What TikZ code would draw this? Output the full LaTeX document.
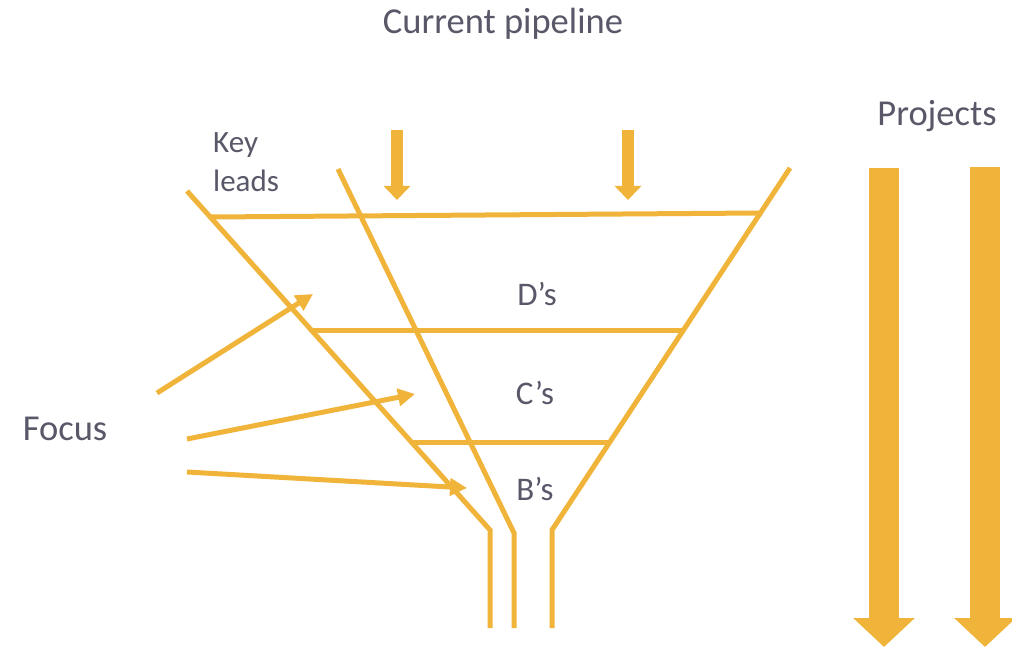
\documentclass[tikz,border=0pt]{standalone}
\usepackage{fontspec}
\setmainfont{Carlito}
\usepackage{tikz}
\usetikzlibrary{arrows.meta,positioning}

\definecolor{funnelgold}{RGB}{240,180,58}
\definecolor{labelgray}{RGB}{88,88,104}

\begin{document}
\begin{tikzpicture}[x=1pt, y=-1pt,
    rim/.style={draw=funnelgold, line width=5pt},
    pointer/.style={draw=funnelgold, line width=5pt, -{Triangle[length=17pt, width=17pt]}},
    feed/.style={draw=funnelgold, line width=12pt, -{Triangle[length=14pt, width=26pt]}},
    flow/.style={draw=funnelgold, line width=30pt, -{Triangle[length=29pt, width=60pt]}},
    heading/.style={text=labelgray, font=\fontsize{36.5}{40}\selectfont, inner sep=0pt, anchor=base},
    stage/.style={text=labelgray, font=\fontsize{33}{39}\selectfont, inner sep=0pt, anchor=base},
    note/.style={text=labelgray, font=\fontsize{31}{39}\selectfont, inner sep=0pt, anchor=base west, align=left}
]
    \useasboundingbox[fill=white] (0,0) rectangle (1012,647);

    % titles
    \node[heading] (title) at (503,34) {Current pipeline};
    \node[heading] (projects) at (937,126) {Projects};
    \node[heading] (focus) at (65,440) {Focus};
    \node[note] (keyleads) at (213,192) {Key\\leads};

    % funnel walls
    \coordinate (lefttop) at (187,191);
    \coordinate (leftneck) at (490,530);
    \coordinate (leftend) at (490,628);
    \coordinate (midtop) at (338,169);
    \coordinate (midneck) at (514,533);
    \coordinate (midend) at (514,628);
    \coordinate (righttop) at (790,168);
    \coordinate (rightneck) at (552,530);
    \coordinate (rightend) at (552,628);

    \draw[rim] (lefttop) -- (leftneck) -- (leftend);
    \draw[rim] (midtop) -- (midneck) -- (midend);
    \draw[rim] (righttop) -- (rightneck) -- (rightend);

    % stage rims
    \coordinate (rimDl) at (211,217);
    \coordinate (rimDr) at (760,213);
    \coordinate (rimCl) at (312,330);
    \coordinate (rimCr) at (684,330);
    \coordinate (rimBl) at (413,442);
    \coordinate (rimBr) at (610,442);

    \draw[rim] (rimDl) -- (rimDr);
    \draw[rim] (rimCl) -- (rimCr);
    \draw[rim] (rimBl) -- (rimBr);

    \node[stage] (ds) at (537,305) {D’s};
    \node[stage] (cs) at (535,404) {C’s};
    \node[stage] (bs) at (535,500) {B’s};

    % inflow arrows
    \foreach \x [count=\i] in {397,628} {
        \coordinate (feedtop\i) at (\x,130);
        \coordinate (feedtip\i) at (\x,200);
        \draw[feed] (feedtop\i) -- (feedtip\i);
    }

    % focus arrows
    \coordinate (focusA) at (157,393);
    \coordinate (focusB) at (187,439);
    \coordinate (focusC) at (187,472);
    \coordinate (aimD) at (313,294);
    \coordinate (aimC) at (415,394);
    \coordinate (aimB) at (467,488);

    \draw[pointer] (focusA) -- (aimD);
    \draw[pointer] (focusB) -- (aimC);
    \draw[pointer] (focusC) -- (aimB);

    % project arrows
    \coordinate (projtop1) at (884,168);
    \coordinate (projtip1) at (884,647);
    \coordinate (projtop2) at (985,167);
    \coordinate (projtip2) at (985,647);

    \draw[flow] (projtop1) -- (projtip1);
    \draw[flow] (projtop2) -- (projtip2);
\end{tikzpicture}
\end{document}
